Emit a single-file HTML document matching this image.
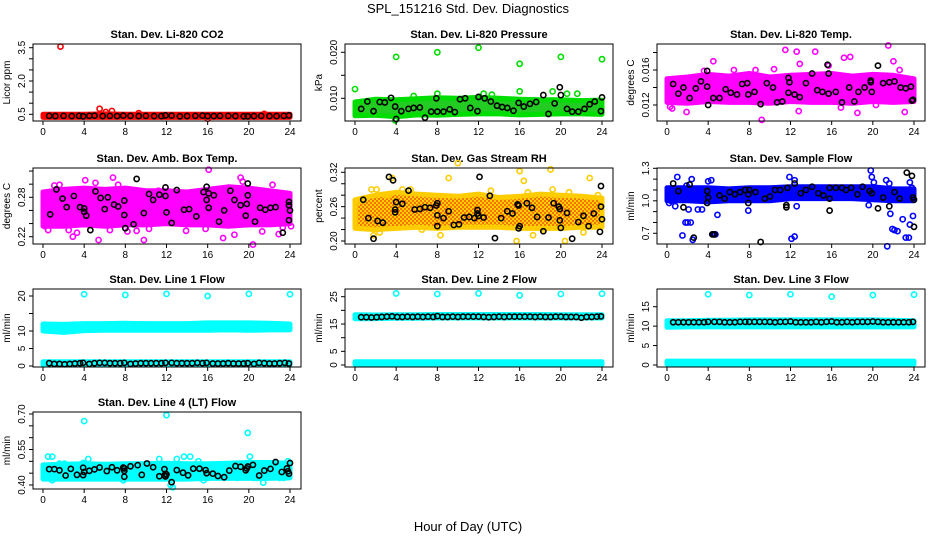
<!DOCTYPE html>
<html><head><meta charset="utf-8"><style>
html,body{margin:0;padding:0;background:#fff}
svg{display:block;font-family:"Liberation Sans",Arial,sans-serif}
</style></head><body>
<svg id="chart" width="936" height="540" viewBox="0 0 936 540">
<defs>
<pattern id="rhpat" width="4" height="4" patternUnits="userSpaceOnUse">
<rect width="4" height="4" fill="#ffd000"/>
<circle cx="1" cy="1" r="0.9" fill="#ee3000"/>
<circle cx="3" cy="3" r="0.9" fill="#ee3000"/>
</pattern>
</defs>
<text x="468" y="13" text-anchor="middle" font-size="13">SPL_151216  Std. Dev. Diagnostics</text>
<text x="468" y="531" text-anchor="middle" font-size="13">Hour of Day (UTC)</text>
</svg>
<script>
// ---- data ----
const bandHours = [0,2,4,6,8,10,12,14,16,18,20,22,24];
const xTicks = [0,4,8,12,16,20,24];

const co2Lo = [0.36,0.36,0.36,0.36,0.36,0.36,0.36,0.36,0.36,0.36,0.36,0.36,0.36];
const co2Hi = [0.50,0.50,0.50,0.52,0.50,0.50,0.50,0.50,0.50,0.50,0.50,0.50,0.50];
const co2Pts = [[1.7,3.55],[5.5,0.75],[6.1,0.6],[6.7,0.65],[9.3,0.55],[21.5,0.52],[16,0.3]];
const co2Black = [[0.6,0.43],[1.2,0.42],[2,0.43],[2.8,0.42],[3.5,0.43],[3.9,0.41],[4.5,0.43],[5,0.44],[5.8,0.42],[6.5,0.43],[7.2,0.42],[7.8,0.44],[8.5,0.43],[9.3,0.42],[10,0.43],[10.8,0.42],[11.5,0.42],[11.9,0.45],[12.5,0.44],[13.3,0.41],[14,0.42],[14.8,0.43],[15.5,0.44],[16,0.42],[16.6,0.42],[17.2,0.43],[18,0.43],[18.7,0.42],[19.5,0.41],[19.9,0.41],[20.5,0.42],[21.2,0.43],[22,0.42],[22.7,0.42],[23.4,0.43],[23.9,0.45]];

const presLo = [0.0062,0.0063,0.0060,0.0064,0.0063,0.0065,0.0066,0.0066,0.0064,0.0065,0.0066,0.0066,0.0065];
const presHi = [0.0092,0.0098,0.0097,0.0099,0.0101,0.0100,0.0102,0.0100,0.0098,0.0097,0.0097,0.0095,0.0096];
const presPts = [[0,0.012],[4,0.019],[8,0.020],[12,0.021],[16,0.0175],[20,0.019],[24,0.0185],[8,0.011],[16,0.0115],[19.2,0.0115],[20.6,0.011],[21.6,0.011],[5.7,0.0105],[12.5,0.011],[13.3,0.0108],[3.9,0.0052]];
const presBlack = [[0.6,0.0077],[1.2,0.0093],[1.8,0.0072],[2.4,0.0092],[2.9,0.0091],[3.5,0.0101],[3.9,0.0082],[4.0,0.0055],[4.5,0.0072],[5.2,0.0077],[5.7,0.0079],[6.3,0.0080],[6.8,0.0058],[7.4,0.0071],[7.9,0.0100],[8.0,0.0071],[8.6,0.0071],[9.2,0.0076],[9.7,0.0070],[10.2,0.0098],[10.7,0.0100],[11.2,0.0079],[11.9,0.0072],[12.0,0.0103],[12.6,0.0100],[13.2,0.0093],[13.8,0.0084],[14.3,0.0081],[14.8,0.0079],[15.4,0.0073],[15.9,0.0090],[16.4,0.0082],[17.0,0.0088],[17.6,0.0092],[18.3,0.0107],[18.8,0.0066],[19.4,0.0089],[19.9,0.0124],[20.0,0.0107],[20.6,0.0077],[21.1,0.0071],[21.7,0.0071],[22.3,0.0077],[22.8,0.0087],[23.3,0.0093],[23.9,0.0072],[24.0,0.0102]];

const tempLo = [0.0123,0.0122,0.0124,0.0123,0.0123,0.0122,0.0124,0.0123,0.0123,0.0122,0.0124,0.0123,0.0124];
const tempHi = [0.0150,0.0152,0.0155,0.0153,0.0156,0.0152,0.0154,0.0155,0.0156,0.0153,0.0155,0.0154,0.0150];
const tempPts = [[1.9,0.0112],[0.5,0.0116],[3.6,0.0159],[4.5,0.017],[11.5,0.0183],[12.6,0.0181],[14.4,0.0181],[17.2,0.0174],[17.8,0.0175],[21.5,0.0188],[22,0.0170],[9.2,0.0103],[12.8,0.0113],[16.9,0.0117],[18.5,0.0111],[23.1,0.0112],[20.3,0.0120],[6.5,0.0160],[8.6,0.016],[12.9,0.0167],[22.6,0.016],[15.7,0.0165],[0.3,0.0118],[10.4,0.0161]];
const tempBlack = [[0.6,0.0144],[1.1,0.0133],[1.6,0.0140],[2.2,0.0128],[2.8,0.0139],[3.3,0.0147],[3.9,0.0159],[3.9,0.0141],[4.0,0.0120],[4.5,0.0128],[5.1,0.0128],[5.7,0.0138],[6.2,0.0134],[6.8,0.0132],[7.3,0.0144],[7.8,0.0145],[7.9,0.0132],[8.5,0.0135],[9.1,0.0121],[9.7,0.0145],[10.3,0.0140],[10.7,0.0123],[11.2,0.0124],[11.8,0.0151],[11.8,0.0134],[11.9,0.0146],[12.4,0.0132],[12.9,0.0129],[13.5,0.0145],[14.1,0.0156],[14.6,0.0137],[15.1,0.0135],[15.6,0.0166],[15.7,0.0156],[15.7,0.0133],[16.4,0.0135],[17.0,0.0123],[17.7,0.0140],[18.2,0.0124],[18.6,0.0135],[19.2,0.0140],[19.8,0.0148],[19.8,0.0146],[19.9,0.0135],[20.5,0.0165],[21.0,0.0145],[21.6,0.0146],[22.1,0.0147],[22.7,0.0140],[23.2,0.0139],[23.7,0.0141],[23.8,0.0125],[23.9,0.0126]];

const ambLo = [0.236,0.236,0.238,0.236,0.238,0.238,0.240,0.238,0.238,0.236,0.238,0.238,0.240];
const ambHi = [0.288,0.292,0.294,0.292,0.294,0.290,0.290,0.288,0.292,0.296,0.294,0.290,0.286];
const ambPts = [[0.2,0.236],[0.5,0.23],[1.1,0.298],[1.6,0.299],[2.5,0.23],[2.9,0.22],[3.3,0.226],[5.4,0.215],[6.8,0.31],[7.3,0.299],[6.5,0.23],[8.2,0.228],[9.1,0.229],[9.8,0.215],[10.3,0.232],[11.2,0.29],[13.9,0.229],[16.1,0.322],[15.8,0.232],[17.5,0.218],[18.6,0.223],[19.2,0.31],[19.4,0.304],[20.4,0.208],[21.3,0.228],[22.3,0.299],[22.9,0.224],[23.3,0.234],[24.1,0.236],[4.1,0.306],[5.1,0.302],[3.5,0.24]];
const ambBlack = [[0.7,0.254],[1.3,0.292],[1.9,0.278],[2.3,0.265],[3.0,0.282],[3.6,0.265],[4.0,0.263],[4.0,0.258],[4.2,0.252],[4.6,0.230],[5.1,0.289],[5.6,0.279],[6.0,0.262],[6.3,0.280],[6.9,0.269],[7.3,0.266],[7.9,0.275],[7.9,0.253],[8.0,0.233],[8.8,0.239],[9.1,0.308],[9.8,0.256],[10.3,0.285],[10.7,0.276],[11.3,0.284],[11.9,0.295],[11.9,0.282],[12.0,0.257],[12.5,0.241],[13.0,0.291],[13.7,0.261],[14.2,0.262],[14.9,0.251],[15.6,0.288],[15.9,0.296],[16.1,0.286],[15.9,0.276],[16.1,0.264],[16.6,0.283],[17.1,0.243],[17.6,0.260],[18.2,0.290],[18.6,0.276],[19.2,0.268],[19.7,0.252],[19.8,0.270],[19.9,0.283],[19.9,0.301],[20.6,0.243],[21.1,0.264],[21.6,0.261],[22.1,0.264],[22.6,0.265],[23.3,0.226],[23.9,0.273],[23.9,0.268],[24.0,0.260],[23.9,0.245]];

const rhLo = [0.222,0.220,0.222,0.224,0.222,0.224,0.224,0.224,0.222,0.222,0.222,0.224,0.224];
const rhHi = [0.272,0.280,0.285,0.282,0.280,0.278,0.282,0.276,0.278,0.282,0.280,0.278,0.275];
const rhPts = [[0.3,0.27],[1.6,0.29],[2.1,0.29],[3.1,0.28],[3.6,0.31],[4.6,0.29],[5.4,0.29],[1.8,0.21],[2.4,0.215],[6.5,0.22],[8.3,0.21],[10.0,0.336],[9.1,0.31],[13.2,0.288],[15.7,0.20],[16.0,0.322],[16.4,0.305],[16.8,0.285],[17.3,0.21],[18.3,0.22],[19.0,0.325],[19.2,0.29],[20.4,0.20],[20.8,0.285],[22.8,0.31],[23.6,0.28],[22.2,0.215]];
const rhBlack = [[0.8,0.272],[1.3,0.24],[1.8,0.204],[2.2,0.235],[2.7,0.232],[3.3,0.312],[3.7,0.306],[3.9,0.255],[3.9,0.250],[4.0,0.268],[4.6,0.265],[5.2,0.288],[5.8,0.255],[6.3,0.256],[6.8,0.259],[7.3,0.258],[7.9,0.262],[8.0,0.266],[8.0,0.245],[8.0,0.226],[8.6,0.240],[9.1,0.252],[9.6,0.228],[10.1,0.229],[10.6,0.241],[11.1,0.242],[11.6,0.240],[11.9,0.248],[11.9,0.254],[12.0,0.244],[12.1,0.312],[12.5,0.241],[13.1,0.279],[13.6,0.205],[14.2,0.240],[14.8,0.252],[15.3,0.248],[15.8,0.264],[15.9,0.262],[15.9,0.222],[16.0,0.226],[16.7,0.266],[17.2,0.258],[17.7,0.242],[18.3,0.217],[18.8,0.241],[19.3,0.266],[19.8,0.260],[19.9,0.256],[19.9,0.236],[20.0,0.223],[20.6,0.249],[21.1,0.204],[21.7,0.233],[22.2,0.244],[22.7,0.226],[23.2,0.248],[23.8,0.216],[23.9,0.296],[23.9,0.260],[24.0,0.238]];

const flowLo = [1.00,1.00,0.99,1.00,1.00,1.00,1.02,1.02,1.02,1.02,1.01,1.00,1.00];
const flowHi = [1.12,1.12,1.12,1.11,1.12,1.12,1.13,1.13,1.13,1.13,1.13,1.11,1.11];
const flowPts = [[0.2,0.98],[0.4,1.0],[1.0,1.22],[0.8,0.95],[1.5,0.68],[1.8,0.8],[2.0,0.8],[2.3,0.8],[2.1,0.92],[1.9,1.14],[2.4,1.2],[2.5,0.64],[3.0,0.92],[3.4,0.92],[4.0,1.18],[4.3,1.19],[4.5,0.69],[4.7,0.69],[4.9,0.87],[7.9,0.91],[11.9,1.22],[12.1,0.65],[12.4,0.67],[12.4,1.19],[12.6,0.95],[19.8,1.28],[19.9,1.22],[20.1,1.17],[19.6,0.96],[21.3,1.19],[21.4,0.58],[21.6,1.16],[21.7,0.88],[21.9,0.74],[22.1,0.73],[22.4,0.72],[22.9,0.83],[23.2,0.66],[23.5,0.66],[23.6,0.78],[23.9,0.86],[23.6,1.17],[23.8,1.12]];
const flowBlack = [[0.6,1.16],[1.1,1.09],[1.6,0.94],[2.2,1.15],[2.6,0.66],[3.9,1.09],[3.9,0.98],[4.0,1.03],[4.4,0.69],[4.6,0.69],[5.1,1.05],[5.6,1.02],[6.1,1.08],[6.6,1.06],[7.1,1.08],[7.6,1.10],[7.9,1.06],[7.9,0.98],[8.0,1.10],[8.6,1.08],[9.1,0.62],[9.5,1.02],[10.0,1.04],[10.5,1.10],[11.0,1.10],[11.6,0.96],[11.6,0.94],[11.7,1.12],[12.4,1.16],[13.0,1.07],[13.5,1.10],[14.1,1.13],[14.7,1.07],[15.2,1.05],[15.8,1.02],[15.8,0.91],[15.8,1.12],[16.4,1.12],[17.0,1.12],[17.4,1.10],[17.9,1.12],[18.5,1.06],[19.0,1.13],[19.7,1.09],[19.9,1.07],[20.5,0.93],[21.0,1.03],[21.6,0.95],[22.1,1.08],[22.6,1.02],[23.3,1.26],[23.8,1.23],[23.9,1.03],[24.0,1.01],[24.0,0.76]];

const l1Lo = [10.0,9.6,10.1,10.2,10.2,10.2,10.2,10.2,10.2,10.3,10.2,10.3,10.3];
const l1Hi = [12.0,11.9,12.1,12.1,12.2,12.1,12.1,12.1,12.3,12.3,12.3,12.2,12.0];
const l1LowLo = [0.3,0.3,0.3,0.3,0.3,0.3,0.3,0.3,0.3,0.3,0.3,0.3,0.3];
const l1LowHi = [1.2,1.2,1.2,1.2,1.2,1.2,1.2,1.2,1.2,1.2,1.2,1.2,1.2];
const l1Pts = [[4,20.5],[8,20.3],[12,20.6],[16,20.0],[20,20.6],[24,20.5]];
const l1Black = [[0.6,0.8],[1.1,0.6],[1.6,0.6],[2.1,0.5],[2.6,0.6],[3.1,0.7],[3.6,0.8],[3.9,0.9],[4.5,0.6],[5.0,0.8],[5.5,0.9],[6.0,0.9],[6.5,0.8],[7.0,0.8],[7.5,0.8],[7.9,0.9],[8.5,0.6],[9.0,0.7],[9.5,0.8],[10.0,0.8],[10.5,0.8],[11.0,0.8],[11.5,0.8],[11.9,0.9],[12.5,0.9],[13.0,0.8],[13.5,0.8],[14.0,0.8],[14.5,0.8],[15.0,0.9],[15.5,0.8],[15.9,0.9],[16.5,0.7],[17.0,0.7],[17.5,0.7],[18.0,0.8],[18.5,0.7],[19.0,0.7],[19.5,0.7],[19.9,0.8],[20.5,0.6],[21.0,0.9],[21.5,0.8],[22.0,0.7],[22.5,0.7],[23.0,0.8],[23.5,0.9],[23.9,0.7]];

const l2Lo = [16.9,17.0,17.1,17.1,17.2,17.2,17.2,17.2,17.2,17.2,17.2,17.2,17.2];
const l2Hi = [18.4,18.3,18.4,18.4,18.5,18.5,18.5,18.5,18.5,18.5,18.4,18.4,18.4];
const l2LowLo = [0.2,0.2,0.2,0.2,0.2,0.2,0.2,0.2,0.2,0.2,0.2,0.2,0.2];
const l2LowHi = [1.2,1.2,1.2,1.2,1.2,1.2,1.2,1.2,1.2,1.2,1.2,1.2,1.2];
const l2Pts = [[4,26.2],[8,26.0],[12,26.2],[16,25.5],[20,26.0],[24,26.1]];
const l2Black = [[0.6,17.5],[1.1,17.5],[1.6,17.4],[2.1,17.5],[2.6,17.6],[3.1,17.7],[3.6,17.8],[4.1,17.6],[4.6,17.6],[5.1,17.7],[5.6,17.6],[6.1,17.7],[6.6,17.6],[7.1,17.7],[7.6,17.6],[8.0,17.9],[8.5,17.6],[9.0,17.6],[9.5,17.7],[10.0,17.6],[10.5,17.7],[11.0,17.7],[11.5,17.7],[12.0,17.7],[12.5,17.6],[13.0,17.5],[13.5,17.6],[14.0,17.7],[14.5,17.6],[15.0,17.7],[15.5,17.7],[16.0,17.7],[16.5,17.7],[17.0,17.7],[17.5,17.6],[18.0,17.7],[18.5,17.6],[19.0,17.6],[19.5,17.7],[20.0,17.7],[20.5,17.6],[21.0,17.6],[21.5,17.6],[22.0,17.3],[22.5,17.6],[23.0,17.6],[23.5,17.7],[23.9,17.8]];

const l3Lo = [9.7,9.8,9.8,9.8,9.8,9.8,9.8,9.8,9.8,9.8,9.8,9.8,9.8];
const l3Hi = [11.4,11.4,11.5,11.5,11.6,11.6,11.6,11.6,11.6,11.6,11.6,11.5,11.4];
const l3LowLo = [0.2,0.2,0.2,0.2,0.2,0.2,0.2,0.2,0.2,0.2,0.2,0.2,0.2];
const l3LowHi = [1.0,1.0,1.0,1.0,1.0,1.0,1.0,1.0,1.0,1.0,1.0,1.0,1.0];
const l3Pts = [[4,18.2],[8,18.0],[12,18.2],[16,17.6],[20,18.0],[24,18.1]];
const l3Black = [[0.6,11.0],[1.1,11.0],[1.6,11.0],[2.1,11.0],[2.6,11.0],[3.1,11.0],[3.6,11.0],[4.0,11.1],[4.6,11.1],[5.1,11.1],[5.6,11.0],[6.1,11.0],[6.6,11.0],[7.1,11.1],[7.6,11.1],[8.0,11.1],[8.5,11.1],[9.0,11.1],[9.5,11.1],[10.0,11.1],[10.5,11.0],[11.0,11.1],[11.5,11.1],[12.0,11.2],[12.5,11.0],[13.0,11.0],[13.5,11.0],[14.0,11.0],[14.5,11.1],[15.0,11.0],[15.5,11.1],[16.0,11.2],[16.5,11.0],[17.0,11.0],[17.5,11.1],[18.0,11.0],[18.5,11.1],[19.0,11.1],[19.5,11.1],[20.0,11.2],[20.5,11.1],[21.0,11.0],[21.5,11.0],[22.0,11.0],[22.5,11.0],[23.0,11.0],[23.5,11.0],[23.9,11.1]];

const l4Lo = [0.425,0.425,0.425,0.425,0.425,0.425,0.425,0.425,0.428,0.428,0.428,0.428,0.430];
const l4Hi = [0.485,0.488,0.490,0.488,0.490,0.490,0.492,0.490,0.490,0.492,0.495,0.495,0.492];
const l4Pts = [[0.5,0.52],[0.9,0.52],[0.6,0.43],[2.1,0.49],[3.9,0.493],[4.0,0.67],[4.4,0.51],[4.6,0.44],[9.5,0.43],[11.3,0.51],[12.0,0.695],[12.6,0.39],[12.4,0.40],[13.0,0.51],[13.4,0.43],[13.7,0.52],[14.3,0.52],[15.1,0.50],[16.0,0.43],[18.9,0.43],[19.9,0.62],[20.1,0.52],[20.5,0.43],[20.8,0.43],[21.4,0.41],[23.0,0.43],[23.4,0.43],[23.8,0.50],[1.6,0.49],[6.2,0.47],[0.1,0.44],[0.9,0.42],[7.8,0.42],[15.6,0.42]];
const l4Black = [[0.6,0.467],[1.1,0.467],[1.6,0.462],[2.2,0.44],[2.7,0.468],[3.3,0.443],[3.9,0.473],[3.9,0.442],[4.0,0.455],[4.5,0.46],[5.0,0.466],[5.5,0.474],[6.2,0.459],[6.7,0.475],[7.2,0.462],[7.8,0.474],[7.9,0.47],[7.9,0.46],[7.9,0.435],[8.5,0.479],[9.2,0.484],[9.6,0.443],[10.1,0.491],[10.7,0.475],[11.3,0.437],[11.8,0.44],[11.9,0.447],[11.9,0.436],[12.0,0.445],[11.8,0.467],[12.5,0.412],[13.0,0.463],[13.6,0.452],[14.1,0.441],[14.6,0.469],[15.2,0.469],[15.8,0.463],[15.9,0.45],[16.5,0.448],[17.0,0.438],[17.6,0.433],[18.1,0.461],[18.7,0.48],[19.2,0.477],[19.7,0.462],[19.8,0.47],[19.9,0.478],[20.4,0.485],[21.0,0.44],[21.5,0.461],[22.1,0.468],[22.6,0.497],[23.2,0.455],[23.7,0.47],[23.8,0.458],[23.9,0.448],[24.0,0.493]];

const co2YTicks=[0.5,1.0,1.5,2.0,2.5,3.0,3.5], co2YLabels=["0.5","2.0","3.5"];
const presYTicks=[0.010,0.015,0.020], presYLabels=["0.010","0.020"];
const tempYTicks=[0.012,0.014,0.016,0.018], tempYLabels=["0.012","0.016"];
const ambYTicks=[0.22,0.24,0.26,0.28,0.30,0.32], ambYLabels=["0.22","0.28"];
const rhYTicks=[0.20,0.22,0.24,0.26,0.28,0.30,0.32], rhYLabels=["0.20","0.26","0.32"];
const flowYTicks=[0.7,0.8,0.9,1.0,1.1,1.2,1.3], flowYLabels=["0.7","1.0","1.3"];
const l1YTicks=[0,5,10,15,20], l1YLabels=["0","5","10","20"];
const l2YTicks=[0,5,10,15,20,25], l2YLabels=["0","5","15","25"];
const l3YTicks=[0,5,10,15], l3YLabels=["0","5","10","15"];
const l4YTicks=[0.40,0.45,0.50,0.55,0.60,0.65,0.70], l4YLabels=["0.40","0.55","0.70"];

// ---- layout ----
const NS="http://www.w3.org/2000/svg";
const svg=document.getElementById('chart');
function mk(tag,attrs,parent){const e=document.createElementNS(NS,tag);for(const k in attrs)e.setAttribute(k,attrs[k]);(parent||svg).appendChild(e);return e;}

const panels=[
 {key:'co2',title:'Stan. Dev. Li-820 CO2',ylab:'Licor ppm',L:33,T:44,B:121,v0:0.5,p0:114.3,v1:3.5,p1:47.7,col:'#ff0000',fill:'#ff0000',bands:[[co2Lo,co2Hi]],pts:co2Pts,black:co2Black,yt:co2YTicks,yl:co2YLabels},
 {key:'pressure',title:'Stan. Dev. Li-820 Pressure',ylab:'kPa',L:345,T:44,B:121,v0:0.010,p0:98.3,v1:0.020,p1:52.3,col:'#00dd00',fill:'#22cc22',bands:[[presLo,presHi]],pts:presPts,black:presBlack,yt:presYTicks,yl:presYLabels},
 {key:'temp',title:'Stan. Dev. Li-820 Temp.',ylab:'degrees C',L:657,T:44,B:121,v0:0.012,p0:105,v1:0.016,p1:70,col:'#ff00ff',fill:'#ff00ff',bands:[[tempLo,tempHi]],pts:tempPts,black:tempBlack,yt:tempYTicks,yl:tempYLabels},
 {key:'amb-temp',title:'Stan. Dev. Amb. Box Temp.',ylab:'degrees C',L:33,T:168,B:244,v0:0.22,p0:236.7,v1:0.28,p1:197.3,col:'#ff00ff',fill:'#ff00ff',bands:[[ambLo,ambHi]],pts:ambPts,black:ambBlack,yt:ambYTicks,yl:ambYLabels},
 {key:'rh',title:'Stan. Dev. Gas Stream RH',ylab:'percent',L:345,T:168,B:244,v0:0.20,p0:241,v1:0.32,p1:172.3,col:'#ffcc00',fill:'url(#rhpat)',bands:[[rhLo,rhHi]],pts:rhPts,black:rhBlack,yt:rhYTicks,yl:rhYLabels},
 {key:'sample-flow',title:'Stan. Dev. Sample Flow',ylab:'ml/min',L:657,T:168,B:244,v0:0.7,p0:233.3,v1:1.3,p1:168.3,col:'#0000ff',fill:'#0000ff',bands:[[flowLo,flowHi]],pts:flowPts,black:flowBlack,yt:flowYTicks,yl:flowYLabels},
 {key:'line1',title:'Stan. Dev. Line 1 Flow',ylab:'ml/min',L:33,T:289,B:367,v0:0,p0:366,v1:20,p1:296,col:'#00ffff',fill:'#00ffff',bands:[[l1Lo,l1Hi],[l1LowLo,l1LowHi]],pts:l1Pts,black:l1Black,yt:l1YTicks,yl:l1YLabels},
 {key:'line2',title:'Stan. Dev. Line 2 Flow',ylab:'ml/min',L:345,T:289,B:367,v0:0,p0:365,v1:25,p1:296.7,col:'#00ffff',fill:'#00ffff',bands:[[l2Lo,l2Hi],[l2LowLo,l2LowHi]],pts:l2Pts,black:l2Black,yt:l2YTicks,yl:l2YLabels},
 {key:'line3',title:'Stan. Dev. Line 3 Flow',ylab:'ml/min',L:657,T:289,B:367,v0:0,p0:365,v1:15,p1:306.7,col:'#00ffff',fill:'#00ffff',bands:[[l3Lo,l3Hi],[l3LowLo,l3LowHi]],pts:l3Pts,black:l3Black,yt:l3YTicks,yl:l3YLabels},
 {key:'line4',title:'Stan. Dev. Line 4 (LT) Flow',ylab:'ml/min',L:33,T:412,B:489,v0:0.40,p0:485,v1:0.70,p1:414,col:'#00ffff',fill:'#00ffff',bands:[[l4Lo,l4Hi]],pts:l4Pts,black:l4Black,yt:l4YTicks,yl:l4YLabels}
];

panels.forEach(p=>{
 const W=268;
 const g=mk('g',{});
 
 
 const xs=h=>p.L+10+h/24*247;
 const ys=v=>p.p0+(v-p.v0)*(p.p1-p.p0)/(p.v1-p.v0);
 const t=mk('text',{x:p.L+W/2,y:p.T-6,'text-anchor':'middle','font-size':'11','font-weight':'bold'},g);
 t.textContent=p.title;
 
 
 p.bands.forEach((b,bi)=>{
  const lo=b[0],hi=b[1];
  let d='';
  bandHours.forEach((h,i)=>{d+=(i?'L':'M')+xs(h).toFixed(1)+','+ys(hi[i]).toFixed(1);});
  for(let i=bandHours.length-1;i>=0;i--)d+='L'+xs(bandHours[i]).toFixed(1)+','+ys(lo[i]).toFixed(1);
  d+='Z';
  const pa=mk('path',{d:d,fill:p.fill,stroke:p.col,'stroke-width':5,'stroke-linejoin':'round'},g);
  
  
 });
 p.pts.forEach(q=>{
  const c=mk('circle',{cx:xs(q[0]),cy:ys(q[1]),r:2.6,fill:'none',stroke:p.col,'stroke-width':1.6},g);
  
  
 });
 p.black.forEach(q=>{
  const c=mk('circle',{cx:xs(q[0]),cy:ys(q[1]),r:2.6,fill:'none',stroke:'#000','stroke-width':1.6},g);
  
  
 });
 const bx=mk('rect',{x:p.L,y:p.T,width:W,height:p.B-p.T,fill:'none',stroke:'#000','stroke-width':1},g);
 
 
 const xa=mk('g',{},g);
 
 
 mk('line',{x1:xs(0),x2:xs(24),y1:p.B,y2:p.B,stroke:'#000'},xa);
 xTicks.forEach(h=>{
  mk('line',{x1:xs(h),x2:xs(h),y1:p.B,y2:p.B+4,stroke:'#000'},xa);
  const tx=mk('text',{x:xs(h),y:p.B+14,'text-anchor':'middle','font-size':'10'},xa);
  tx.textContent=h;
  
  
 });
 const ya=mk('g',{},g);
 
 
 mk('line',{x1:p.L,x2:p.L,y1:ys(p.yt[0]),y2:ys(p.yt[p.yt.length-1]),stroke:'#000'},ya);
 p.yt.forEach(v=>{mk('line',{x1:p.L-4,x2:p.L,y1:ys(v),y2:ys(v),stroke:'#000'},ya);});
 p.yl.forEach(s=>{
  const y=ys(parseFloat(s)),x=p.L-8;
  const tx=mk('text',{x:x,y:y,'text-anchor':'middle','font-size':'10',transform:`rotate(-90 ${x} ${y})`},ya);
  tx.textContent=s;
  
  
 });
 const yx=p.L-23,yy=(p.T+p.B)/2;
 const yt=mk('text',{x:yx,y:yy,'text-anchor':'middle','font-size':'10',transform:`rotate(-90 ${yx} ${yy})`},g);
 yt.textContent=p.ylab;
 
 
});
</script>
</body></html>
